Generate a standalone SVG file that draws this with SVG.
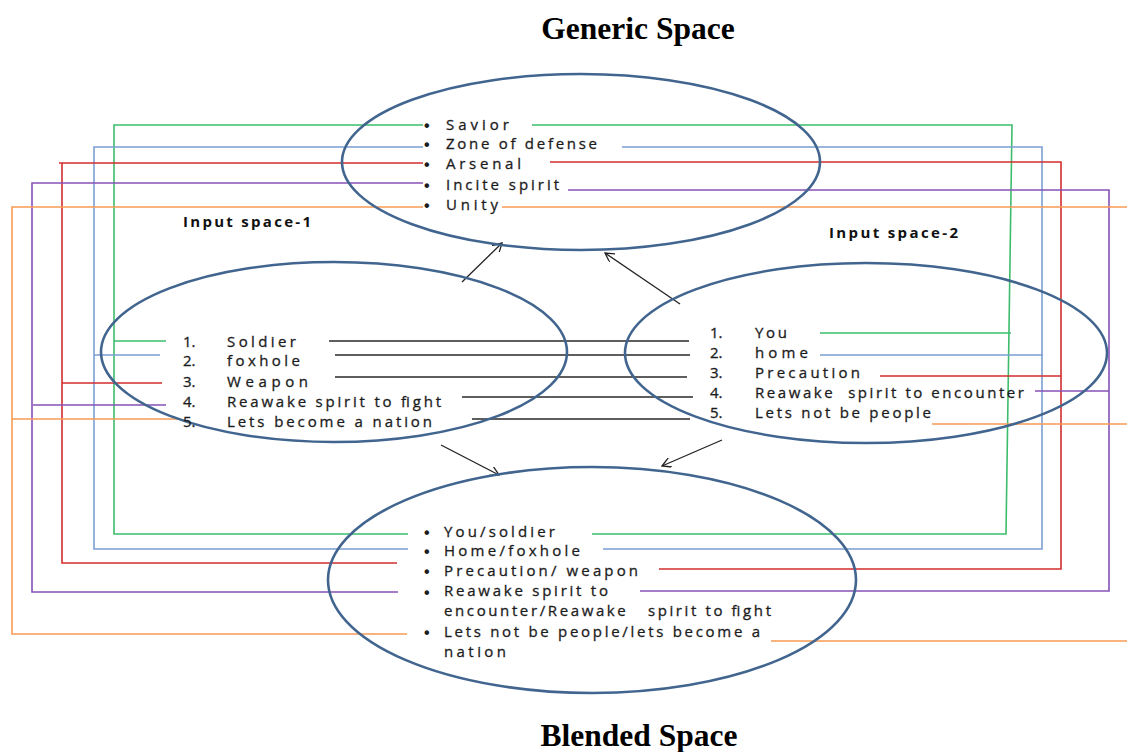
<svg xmlns="http://www.w3.org/2000/svg" width="1127" height="752" viewBox="0 0 1127 752">
<style>
.ell{fill:none;stroke:#41658f;stroke-width:2.6}
.t{font-family:"Open Sans","Liberation Sans",sans-serif;font-size:15px;fill:#1c1c1c;stroke:#1c1c1c;stroke-width:0.3}
.d{font-family:"Liberation Sans",sans-serif;font-size:16px;font-weight:bold;fill:#1c1c1c}
.b{font-family:"Open Sans","Liberation Sans",sans-serif;font-size:15px;font-weight:bold;fill:#111}
.h{font-family:"Liberation Serif","Times New Roman",serif;font-size:31.5px;font-weight:bold;fill:#000}
.c{fill:none;stroke-width:1.6}
.g{stroke:#3dbd6c}.bl{stroke:#7b9fd2}.r{stroke:#d22e2e}.p{stroke:#8651b6}.o{stroke:#f89b55}
.k{fill:none;stroke:#2a2a2a;stroke-width:1.5}
.a{fill:none;stroke:#222;stroke-width:1.3}
</style>
<defs>
<marker id="arr" viewBox="0 0 10 10" refX="9" refY="5" markerWidth="10" markerHeight="10" markerUnits="userSpaceOnUse" orient="auto">
<path d="M0,0 L9,5 L0,10" fill="none" stroke="#222" stroke-width="1.3"/>
</marker>
</defs>
<rect width="1127" height="752" fill="#fff"/>

<g id="connectors">
<path class="c g" d="M423,125 H114 V534 H408 M114,341 H166 M532,125 H1012 L1006,534 H592 M820,333 H1011"/>
<path class="c bl" d="M423,147 H94 V549 H408 M94,355 H160 M622,147 H1042 V549 H603 M820,355 H1043"/>
<path class="c r" d="M423,163 H59 M62,163 V563 H397 M62,383 H162 M550,162 H1061 V569 H659 M880,376 H1061"/>
<path class="c p" d="M423,183 H32 V592 H398 M33,405 H166 M568,190 H1109 V591 H640 M1035,391 H1109"/>
<path class="c o" d="M423,207 H12 V634 H407 M12,419 H178 M502,207 H1127 M932,424 H1127 M771,641 H1127"/>
<path class="k" d="M329,341 H689 M335,355 H690 M335,377 H687 M462,397 H693 M472,419 H690"/>
<line class="a" x1="462" y1="282" x2="502" y2="243" marker-end="url(#arr)"/>
<line class="a" x1="680" y1="304" x2="605" y2="253" marker-end="url(#arr)"/>
<line class="a" x1="441" y1="445" x2="499" y2="475" marker-end="url(#arr)"/>
<line class="a" x1="722" y1="440" x2="662" y2="466" marker-end="url(#arr)"/>
</g>

<g id="generic">
<ellipse class="ell" cx="581" cy="162" rx="239" ry="88"/>
<g class="d">
<text x="424" y="131">•</text><text x="424" y="150">•</text><text x="424" y="170">•</text><text x="424" y="191">•</text><text x="424" y="211">•</text>
</g>
<g class="t">
<text x="446" y="130" textLength="63" lengthAdjust="spacing">Savior</text>
<text x="446" y="149" textLength="151" lengthAdjust="spacing">Zone of defense</text>
<text x="446" y="169" textLength="75" lengthAdjust="spacing">Arsenal</text>
<text x="446" y="190" textLength="113" lengthAdjust="spacing">Incite spirit</text>
<text x="446" y="210" textLength="52" lengthAdjust="spacing">Unity</text>
</g>
</g>

<g id="input1">
<ellipse class="ell" cx="334" cy="352" rx="233" ry="90"/>
<text class="b" x="183" y="227" textLength="128" lengthAdjust="spacing">Input space-1</text>
<g class="t">
<text x="183" y="347">1.</text><text x="227" y="347" textLength="69" lengthAdjust="spacing">Soldier</text>
<text x="183" y="366">2.</text><text x="227" y="366" textLength="73" lengthAdjust="spacing">foxhole</text>
<text x="183" y="387">3.</text><text x="227" y="387" textLength="81" lengthAdjust="spacing">Weapon</text>
<text x="183" y="407">4.</text><text x="227" y="407" textLength="214" lengthAdjust="spacing">Reawake spirit to fight</text>
<text x="183" y="427">5.</text><text x="227" y="427" textLength="205" lengthAdjust="spacing">Lets become a nation</text>
</g>
</g>

<g id="input2">
<ellipse class="ell" cx="866" cy="353" rx="241" ry="90"/>
<text class="b" x="829" y="238" textLength="129" lengthAdjust="spacing">Input space-2</text>
<g class="t">
<text x="710" y="338">1.</text><text x="755" y="338" textLength="32" lengthAdjust="spacing">You</text>
<text x="710" y="358">2.</text><text x="755" y="358" textLength="53" lengthAdjust="spacing">home</text>
<text x="710" y="378">3.</text><text x="755" y="378" textLength="105" lengthAdjust="spacing">Precaution</text>
<text x="710" y="398">4.</text><text x="755" y="398" textLength="269" lengthAdjust="spacing" xml:space="preserve">Reawake  spirit to encounter</text>
<text x="710" y="418">5.</text><text x="755" y="418" textLength="176" lengthAdjust="spacing">Lets not be people</text>
</g>
</g>

<g id="blended">
<ellipse class="ell" cx="592" cy="580" rx="264" ry="113"/>
<g class="d">
<text x="424" y="538">•</text><text x="424" y="557">•</text><text x="424" y="577">•</text><text x="424" y="598">•</text><text x="424" y="638">•</text>
</g>
<g class="t">
<text x="444" y="537" textLength="111" lengthAdjust="spacing">You/soldier</text>
<text x="444" y="556" textLength="136" lengthAdjust="spacing">Home/foxhole</text>
<text x="444" y="576" textLength="194" lengthAdjust="spacing">Precaution/ weapon</text>
<text x="444" y="596" textLength="164" lengthAdjust="spacing">Reawake spirit to</text>
<text x="444" y="616" textLength="327" lengthAdjust="spacing" xml:space="preserve">encounter/Reawake   spirit to fight</text>
<text x="444" y="637" textLength="316" lengthAdjust="spacing">Lets not be people/lets become a</text>
<text x="444" y="657" textLength="62" lengthAdjust="spacing">nation</text>
</g>
</g>

<g id="titles">
<text class="h" x="638" y="39" text-anchor="middle">Generic Space</text>
<text class="h" x="639" y="746" text-anchor="middle">Blended Space</text>
</g>
</svg>
